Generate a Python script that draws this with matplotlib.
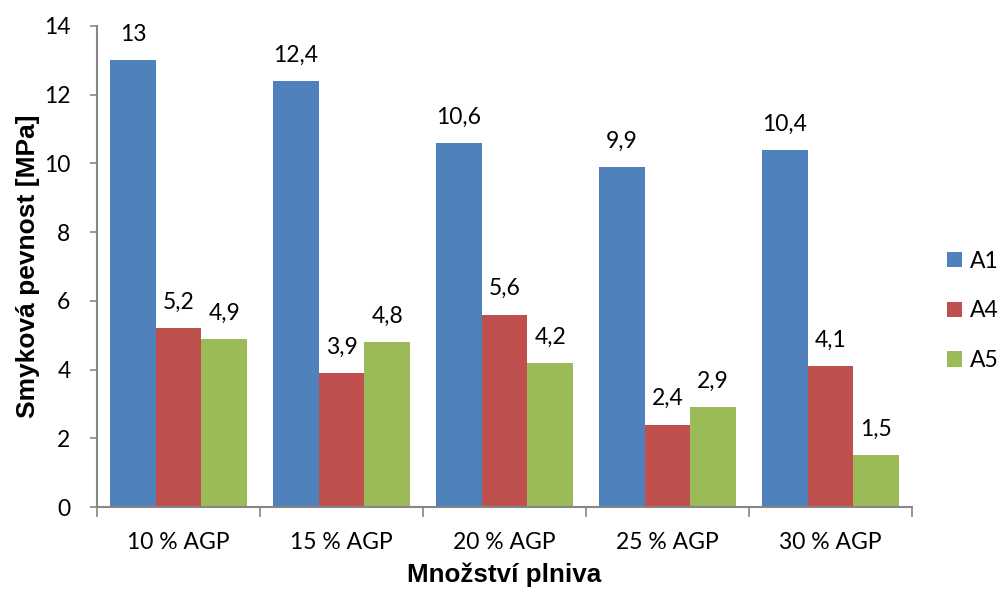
import numpy as np
import matplotlib
matplotlib.use("Agg")
import matplotlib.pyplot as plt
from matplotlib.patches import Patch

categories = ["10 % AGP", "15 % AGP", "20 % AGP", "25 % AGP", "30 % AGP"]
series_names = ["A1", "A4", "A5"]
a1 = [13, 12.4, 10.6, 9.9, 10.4]
a4 = [5.2, 3.9, 5.6, 2.4, 4.1]
a5 = [4.9, 4.8, 4.2, 2.9, 1.5]
values = [a1, a4, a5]
colors = ["#4F81BD", "#C0504D", "#9BBB59"]
y_ticks = [0, 2, 4, 6, 8, 10, 12, 14]

label_font = "Lato"
fs = 16.5
axis_gray = "#868686"

fig = plt.figure(figsize=(10.05, 5.92), dpi=100)
ax = fig.add_axes([97 / 1005, 85 / 592, 815 / 1005, 481 / 592])

x = np.arange(len(categories))
bar_w = 0.28
for i, (name, vals, col) in enumerate(zip(series_names, values, colors)):
    pos = x + (i - 1) * bar_w
    ax.bar(pos, vals, width=bar_w, color=col, label=name, zorder=2)
    for p, v in zip(pos, vals):
        txt = f"{v:g}".replace(".", ",")
        ax.annotate(txt, (p, v), xytext=(0, 11), textcoords="offset points",
                    ha="center", va="bottom", fontsize=fs, family=label_font)

ax.set_xlim(-0.5, len(categories) - 0.5)
ax.set_ylim(0, 14)
ax.set_yticks(y_ticks)
ax.set_yticklabels([str(t) for t in y_ticks], family=label_font, fontsize=fs)

# category labels centred, tick marks on the category boundaries
ax.set_xticks(x)
ax.set_xticklabels(categories, family=label_font, fontsize=fs)
ax.tick_params(axis="x", length=0, pad=18)
ax.set_xticks(np.arange(-0.5, len(categories)), minor=True)
ax.tick_params(axis="x", which="minor", length=7, width=1.2, color=axis_gray, direction="out")
ax.tick_params(axis="y", length=5, width=1.2, color=axis_gray, direction="out", pad=14)

for s in ["top", "right"]:
    ax.spines[s].set_visible(False)
for s in ["left", "bottom"]:
    ax.spines[s].set_color(axis_gray)
    ax.spines[s].set_linewidth(1.5)

ax.set_ylabel("Smyková pevnost [MPa]", family="Liberation Sans", fontweight="bold",
              fontsize=19, labelpad=3)
ax.set_xlabel("Množství plniva", family="Liberation Sans", fontweight="bold",
              fontsize=18.7, labelpad=7)

handles = [Patch(facecolor=c, label=n) for n, c in zip(series_names, colors)]
fig.legend(handles=handles, loc="center left", bbox_to_anchor=(926 / 1005, 0.475),
           frameon=False, prop={"family": label_font, "size": fs},
           handlelength=0.65, handleheight=0.65, handletextpad=0.35, labelspacing=1.25)

fig.savefig("out.png", dpi=100)
